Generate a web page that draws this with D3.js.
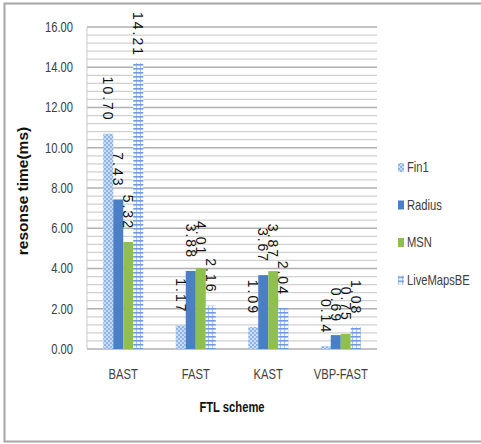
<!DOCTYPE html>
<html>
<head>
<meta charset="utf-8">
<script src="https://cdn.jsdelivr.net/npm/d3@7"></script>
<style>
  html, body { margin: 0; padding: 0; background: #fff; }
  svg { display: block; }
</style>
</head>
<body>
<svg id="chart" width="481" height="444"></svg>
<script>
// FTL schemes and measured response times (ms)
const categories = ["BAST", "FAST", "KAST", "VBP-FAST"];
const seriesNames = ["Fin1", "Radius", "MSN", "LiveMapsBE"];
const fin1 = [10.70, 1.17, 1.09, 0.14];
const radius = [7.43, 3.88, 3.67, 0.69];
const msn = [5.32, 4.01, 3.87, 0.75];
const liveMapsBE = [14.21, 2.16, 2.04, 1.08];
const yTicks = [0, 2, 4, 6, 8, 10, 12, 14, 16];

const seriesValues = [fin1, radius, msn, liveMapsBE];

const svg = d3.select("#chart");
const plain = "'Liberation Sans', Arial, sans-serif";

// compress text horizontally to a condensed look
function squeeze(sel, k) {
  sel.each(function () {
    const len = this.getComputedTextLength();
    d3.select(this).attr("textLength", len * k).attr("lengthAdjust", "spacingAndGlyphs");
  });
}

// outer frame
svg.append("rect")
  .attr("x", 4.5).attr("y", 3.5)
  .attr("width", 480).attr("height", 438)
  .attr("fill", "#fff").attr("stroke", "#a6a6a6").attr("stroke-width", 2);

// fill patterns
const defs = svg.append("defs");
const pFin = defs.append("pattern").attr("id", "pat-fin1")
  .attr("patternUnits", "userSpaceOnUse").attr("width", 4).attr("height", 4);
pFin.append("rect").attr("width", 4).attr("height", 4).attr("fill", "#c9dcf3");
pFin.append("rect").attr("width", 2).attr("height", 2).attr("fill", "#8fb5e6");
pFin.append("rect").attr("x", 2).attr("y", 2).attr("width", 2).attr("height", 2).attr("fill", "#8fb5e6");

const pLive = defs.append("pattern").attr("id", "pat-live")
  .attr("patternUnits", "userSpaceOnUse").attr("width", 4).attr("height", 4);
pLive.append("rect").attr("width", 4).attr("height", 4).attr("fill", "#f4f8fd");
pLive.append("rect").attr("x", 0).attr("y", 0).attr("width", 1).attr("height", 4).attr("fill", "#a9c5ec");
pLive.append("rect").attr("x", 0).attr("y", 0).attr("width", 4).attr("height", 1.6).attr("fill", "#6f9ddc");

const fills = ["url(#pat-fin1)", "#4a7fc6", "#8fc04f", "url(#pat-live)"];

// plot area
const plotLeft = 87, plotRight = 377, plotTop = 27, plotBottom = 349;

const y = d3.scaleLinear().domain([0, 16]).range([plotBottom, plotTop]);
const x0 = d3.scaleBand().domain(categories).range([plotLeft, plotRight]).paddingInner(0).paddingOuter(0);
const groupWidth = 40;
const x1 = d3.scaleBand().domain(seriesNames).range([0, groupWidth]).padding(0);

// gridlines: minor every 0.4, major every 2
const minor = d3.range(0, 16.001, 0.4).filter(v => Math.abs(v / 2 - Math.round(v / 2)) > 1e-6);
svg.append("g").selectAll("line").data(minor).join("line")
  .attr("x1", plotLeft).attr("x2", plotRight)
  .attr("y1", d => y(d)).attr("y2", d => y(d))
  .attr("stroke", "#d0d0d0").attr("stroke-width", 1.3);
svg.append("g").selectAll("line").data(yTicks).join("line")
  .attr("x1", plotLeft).attr("x2", plotRight)
  .attr("y1", d => y(d)).attr("y2", d => y(d))
  .attr("stroke", "#b0b0b0").attr("stroke-width", 1.5);

// vertical axis line
svg.append("line")
  .attr("x1", plotLeft).attr("x2", plotLeft).attr("y1", plotTop).attr("y2", plotBottom)
  .attr("stroke", "#c8c8c8").attr("stroke-width", 1);

// y axis labels
const yAxis = d3.axisLeft(y).tickValues(yTicks).tickFormat(d3.format(".2f")).tickSize(0).tickPadding(14);
const gy = svg.append("g").attr("transform", `translate(${plotLeft},0)`).call(yAxis);
gy.select(".domain").remove();
gy.selectAll("text").attr("font-family", plain).attr("font-size", 14).attr("fill", "#404040");
squeeze(gy.selectAll("text"), 0.8);

// x axis labels
const xAxis = d3.axisBottom(x0).tickSize(0).tickPadding(20);
const gx = svg.append("g").attr("transform", `translate(0,${plotBottom})`).call(xAxis);
gx.select(".domain").remove();
gx.selectAll("text").attr("font-family", plain).attr("font-size", 14).attr("fill", "#404040");
squeeze(gx.selectAll("text"), 0.8);

// bars
const rows = [];
categories.forEach((c, i) => {
  seriesNames.forEach((s, j) => rows.push({ cat: c, series: s, j, value: seriesValues[j][i] }));
});
const barX = d => x0(d.cat) + (x0.bandwidth() - groupWidth) / 2 + x1(d.series);

svg.append("g").selectAll("rect").data(rows).join("rect")
  .attr("x", barX)
  .attr("y", d => y(d.value))
  .attr("width", x1.bandwidth())
  .attr("height", d => y(0) - y(d.value))
  .attr("fill", d => fills[d.j]);

// rotated value labels above bars
const labels = svg.append("g").selectAll("text").data(rows).join("text")
  .attr("font-family", plain).attr("font-size", 14)
  .attr("letter-spacing", "2px")
  .attr("fill", "#111")
  .attr("dominant-baseline", "central")
  .text(d => d.value.toFixed(2));
labels.each(function (d) {
  const len = this.getComputedTextLength();
  let start = y(d.value) - 12 - len;
  if (start < 12) start = 12;
  const cx = barX(d) + x1.bandwidth() / 2;
  d3.select(this).attr("transform", `translate(${cx},${start}) rotate(90)`);
});

// axis titles
svg.append("text")
  .attr("transform", `translate(28,${(plotTop + plotBottom) / 2 + 3}) rotate(-90)`)
  .attr("text-anchor", "middle")
  .attr("font-family", plain).attr("font-weight", "bold").attr("font-size", 15.5)
  .attr("fill", "#111")
  .text("resonse time(ms)");

const xTitle = svg.append("text")
  .attr("x", (plotLeft + plotRight) / 2).attr("y", 412)
  .attr("text-anchor", "middle")
  .attr("font-family", plain).attr("font-weight", "bold").attr("font-size", 14)
  .attr("fill", "#111")
  .text("FTL scheme");
squeeze(xTitle, 0.8);

// legend
const legend = svg.append("g").selectAll("g").data(seriesNames).join("g")
  .attr("transform", (d, i) => `translate(398,${168 + i * 37.5})`);
legend.append("rect")
  .attr("x", 0).attr("y", -5).attr("width", 6).attr("height", 9)
  .attr("fill", (d, i) => fills[i]);
legend.append("text")
  .attr("transform", "translate(9,0) scale(0.8,1)")
  .attr("dominant-baseline", "central")
  .attr("font-family", plain).attr("font-size", 14)
  .attr("fill", "#404040")
  .text(d => d);
</script>
</body>
</html>
